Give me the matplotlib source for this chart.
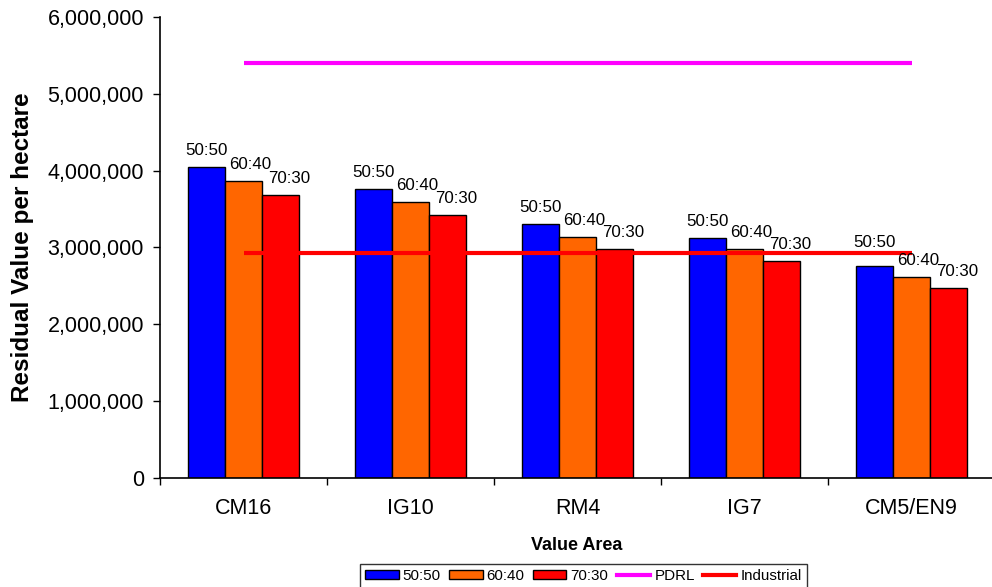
import matplotlib
matplotlib.use("Agg")
import matplotlib.pyplot as plt
from matplotlib.ticker import FuncFormatter, FixedLocator
from matplotlib.patches import Patch
from matplotlib.lines import Line2D
import numpy as np

plt.rcParams['font.family'] = ['Liberation Sans', 'DejaVu Sans']

categories = ["CM16", "IG10", "RM4", "IG7", "CM5/EN9"]
series_names = ["50:50", "60:40", "70:30"]
split_50_50 = [4045000, 3760000, 3310000, 3130000, 2760000]
split_60_40 = [3870000, 3590000, 3140000, 2980000, 2610000]
split_70_30 = [3690000, 3420000, 2980000, 2830000, 2470000]
pdrl = [5400000, 5400000, 5400000, 5400000, 5400000]
industrial = [2930000, 2930000, 2930000, 2930000, 2930000]

bar_colors = ["#0000FF", "#FF6600", "#FF0000"]
pdrl_color = "#FF00FF"
industrial_color = "#FF0000"

W, H = 992, 587
fig = plt.figure(figsize=(W / 100, H / 100), dpi=100)
ax_left, ax_right, ax_top, ax_bottom = 160, 995, 17.3, 477.7
ax = fig.add_axes([ax_left / W, 1 - ax_bottom / H, (ax_right - ax_left) / W, (ax_bottom - ax_top) / H])

x = np.arange(len(categories))
bw = 0.222
series = [split_50_50, split_60_40, split_70_30]
label_dx = [0, 4.5, 6.5]  # points
for i, (vals, name, col) in enumerate(zip(series, series_names, bar_colors)):
    xs = x + (i - 1) * bw
    ax.bar(xs, vals, width=bw, color=col, edgecolor="black", linewidth=1.0, zorder=2)
    for j, (xx, v) in enumerate(zip(xs, vals)):
        dy = 8.6
        if i == 0 and j == len(categories) - 1:
            dy = 13.7
        ax.annotate(name, (xx, v), xytext=(label_dx[i], dy), textcoords="offset points",
                    ha="center", va="baseline", fontsize=12.2, color="black", zorder=4)

ax.plot(x, pdrl, color=pdrl_color, linewidth=3.0, solid_capstyle="butt", zorder=3)
ax.plot(x, industrial, color=industrial_color, linewidth=3.0, solid_capstyle="butt", zorder=3)

ax.set_xlim(-0.5, len(categories) - 0.5)
ax.set_ylim(0, 6000000)
ax.yaxis.set_major_locator(FixedLocator(np.arange(0, 6000001, 1000000)))
ax.yaxis.set_major_formatter(FuncFormatter(lambda v, p: f"{int(v):,}"))

ax.set_xticks(np.arange(-0.5, len(categories), 1.0))
ax.set_xticklabels([])
ax.set_xticks(x, minor=True)
ax.set_xticklabels(categories, minor=True)
ax.tick_params(axis="x", which="major", direction="out", length=5, width=1, color="black")
ax.tick_params(axis="x", which="minor", length=0, pad=14.5, labelsize=15.5)
ax.tick_params(axis="y", direction="out", length=5, width=1, pad=6.5, labelsize=15.5)

for s in ["top", "right"]:
    ax.spines[s].set_visible(False)
for s in ["left", "bottom"]:
    ax.spines[s].set_linewidth(1.2)
    ax.spines[s].set_color("black")

ax.set_ylabel("Residual Value per hectare", fontsize=17.5, fontweight="bold", va="center")
ax.yaxis.set_label_coords((23 - ax_left) / (ax_right - ax_left), 0.5)
ax.set_xlabel("Value Area", fontsize=13, fontweight="bold", va="center")
ax.xaxis.set_label_coords((577 - ax_left) / (ax_right - ax_left), (ax_bottom - 545) / (ax_bottom - ax_top))

handles = [Patch(facecolor=c, edgecolor="black", linewidth=1.0) for c in bar_colors]
handles += [Line2D([0], [0], color=pdrl_color, linewidth=3.0),
            Line2D([0], [0], color=industrial_color, linewidth=3.0)]
labels = series_names + ["PDRL", "Industrial"]
leg = fig.legend(handles, labels, loc="upper left", bbox_to_anchor=(360 / W, 1 - 563.7 / H),
                 ncol=5, fontsize=10.9, frameon=True, fancybox=False, edgecolor="black",
                 handlelength=2.2, handleheight=0.55, handletextpad=0.27, columnspacing=0.56,
                 borderpad=0.35, borderaxespad=0)
leg.get_frame().set_linewidth(1.0)

fig.savefig("out.png", dpi=100)
